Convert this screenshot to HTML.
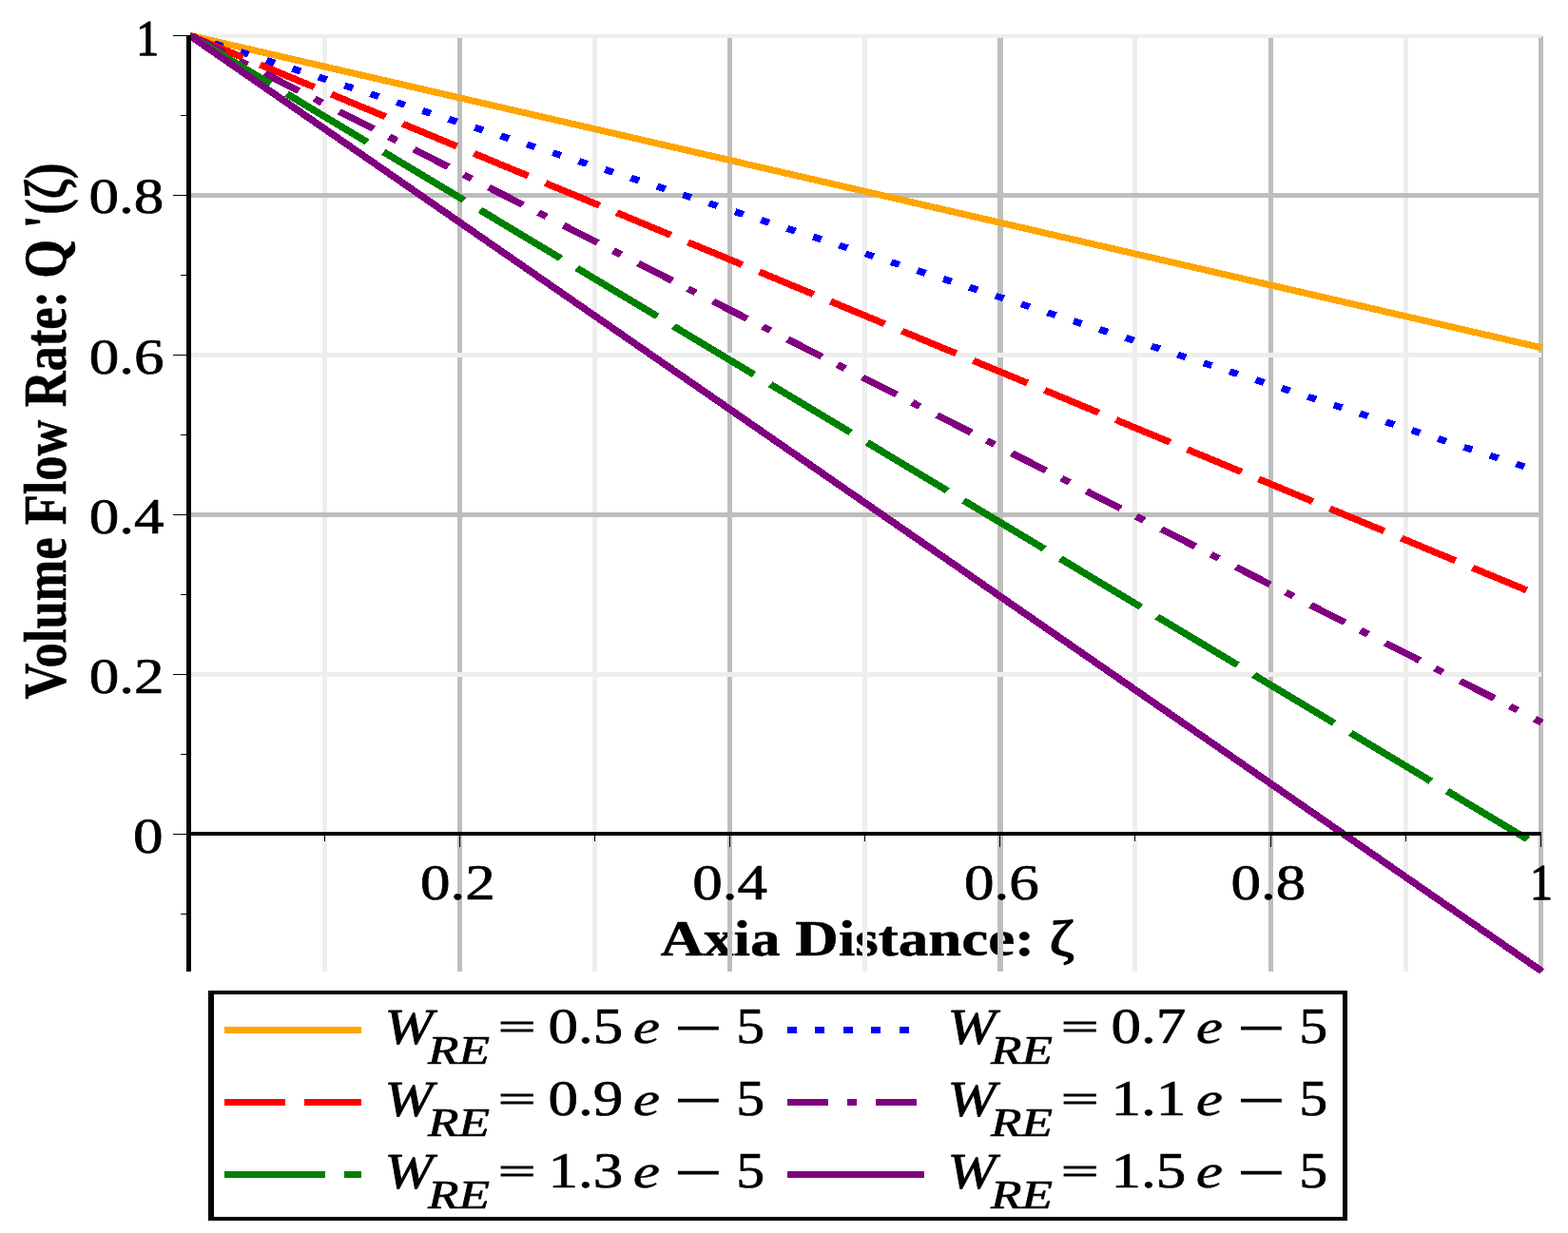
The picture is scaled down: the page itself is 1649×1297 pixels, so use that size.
<!DOCTYPE html>
<html lang="en">
<head>
<meta charset="utf-8">
<title>Volume Flow Rate vs Axia Distance</title>
<style>
html,body{margin:0;padding:0;background:#ffffff;}
body{width:1649px;height:1297px;overflow:hidden;}
svg{display:block;}
text{white-space:pre;}
</style>
</head>
<body>
<svg width="1649" height="1297" viewBox="0 0 1649 1297">
<rect x="0" y="0" width="1649" height="1297" fill="#ffffff"/>
<text transform="translate(694.5,1004.8) scale(1.2,1)" font-family="'Liberation Serif',serif" font-size="52.5" font-weight="bold" font-style="normal" text-anchor="start" fill="#000" stroke="#000" stroke-width="0.5" stroke-linejoin="round">Axia Distance: <tspan font-weight="normal" stroke-width="1.5">ζ</tspan></text>
<text transform="translate(69,735.5) scale(1.2,1) rotate(-90)" font-family="'Liberation Serif',serif" font-size="52.5" font-weight="bold" font-style="normal" text-anchor="start" fill="#000" stroke="#000" stroke-width="0.5" stroke-linejoin="round">Volume Flow Rate: Q <tspan dx="-1.5">'</tspan><tspan font-size="50.3">(<tspan font-weight="normal" stroke-width="1.5">ζ</tspan>)</tspan></text>
<g shape-rendering="crispEdges">
<rect x="339" y="38" width="5" height="984" fill="#eeeeee"/>
<rect x="481" y="38" width="5" height="984" fill="#bebebe"/>
<rect x="623" y="38" width="5" height="984" fill="#eeeeee"/>
<rect x="765" y="38" width="5" height="984" fill="#bebebe"/>
<rect x="907" y="38" width="5" height="984" fill="#eeeeee"/>
<rect x="1049" y="38" width="6" height="984" fill="#bebebe"/>
<rect x="1191" y="38" width="5" height="984" fill="#eeeeee"/>
<rect x="1334" y="38" width="5" height="984" fill="#bebebe"/>
<rect x="1476" y="38" width="5" height="984" fill="#eeeeee"/>
<rect x="1618" y="38" width="5" height="984" fill="#bebebe"/>
<rect x="201" y="36" width="1420" height="4" fill="#eeeeee"/>
<rect x="201" y="203" width="1420" height="5" fill="#bebebe"/>
<rect x="201" y="371" width="1420" height="5" fill="#eeeeee"/>
<rect x="201" y="539" width="1420" height="5" fill="#bebebe"/>
<rect x="201" y="707" width="1420" height="5" fill="#eeeeee"/>
</g>
<g transform="scale(1.2,1)" fill="none" stroke-width="7" shape-rendering="crispEdges">
<line x1="166.25" y1="37.3" x2="1351.25" y2="365.8" stroke="#ffa500"/>
<line x1="166.25" y1="37.3" x2="1351.25" y2="496.8" stroke="#0000ff" stroke-dasharray="7.69 16.78" stroke-dashoffset="1.25"/>
<line x1="166.25" y1="37.3" x2="1351.25" y2="627.5" stroke="#ff0000" stroke-dasharray="53.07 16.76" stroke-dashoffset="0.93"/>
<line x1="166.25" y1="37.3" x2="1351.25" y2="760" stroke="#800080" stroke-dasharray="35.14 15.91 8 17.65" stroke-dashoffset="-0.2"/>
<line x1="166.25" y1="37.3" x2="1351.25" y2="891.9" stroke="#008000" stroke-dasharray="86.92 17.57" stroke-dashoffset="-0.41"/>
<line x1="166.25" y1="37.3" x2="1351.25" y2="1021.7" stroke="#800080"/>
</g>
<g fill="#000000" shape-rendering="crispEdges">
<rect x="196" y="875" width="1425" height="4"/>
<rect x="196" y="37" width="5" height="985"/>
<rect x="182" y="877" width="14" height="1"/>
<rect x="182" y="709" width="14" height="1"/>
<rect x="182" y="541" width="14" height="1"/>
<rect x="182" y="373" width="14" height="1"/>
<rect x="182" y="205" width="14" height="1"/>
<rect x="182" y="37" width="14" height="1"/>
<rect x="190" y="121" width="6" height="1"/>
<rect x="190" y="289" width="6" height="1"/>
<rect x="190" y="457" width="6" height="1"/>
<rect x="190" y="625" width="6" height="1"/>
<rect x="190" y="793" width="6" height="1"/>
<rect x="190" y="961" width="6" height="1"/>
<rect x="341" y="879" width="1" height="6"/>
<rect x="483" y="879" width="1" height="12"/>
<rect x="625" y="879" width="1" height="6"/>
<rect x="767" y="879" width="1" height="12"/>
<rect x="909" y="879" width="1" height="6"/>
<rect x="1051" y="879" width="1" height="12"/>
<rect x="1193" y="879" width="1" height="6"/>
<rect x="1336" y="879" width="1" height="12"/>
<rect x="1478" y="879" width="1" height="6"/>
<rect x="1620" y="879" width="1" height="12"/>
</g>
<text transform="translate(172.3,224.1) scale(1.2,1)" font-family="'Liberation Serif',serif" font-size="52.5" font-weight="normal" font-style="normal" text-anchor="end" fill="#000" stroke="#000" stroke-width="0.7" stroke-linejoin="round">0.8</text>
<text transform="translate(172.5,393.1) scale(1.2,1)" font-family="'Liberation Serif',serif" font-size="52.5" font-weight="normal" font-style="normal" text-anchor="end" fill="#000" stroke="#000" stroke-width="0.7" stroke-linejoin="round">0.6</text>
<text transform="translate(172.5,561.1) scale(1.2,1)" font-family="'Liberation Serif',serif" font-size="52.5" font-weight="normal" font-style="normal" text-anchor="end" fill="#000" stroke="#000" stroke-width="0.7" stroke-linejoin="round">0.4</text>
<text transform="translate(172.5,729.1) scale(1.2,1)" font-family="'Liberation Serif',serif" font-size="52.5" font-weight="normal" font-style="normal" text-anchor="end" fill="#000" stroke="#000" stroke-width="0.7" stroke-linejoin="round">0.2</text>
<text transform="translate(171.6,897.1) scale(1.2,1)" font-family="'Liberation Serif',serif" font-size="52.5" font-weight="normal" font-style="normal" text-anchor="end" fill="#000" stroke="#000" stroke-width="0.7" stroke-linejoin="round">0</text>
<text transform="translate(143.2,58.4) scale(0.91,1)" font-family="'Liberation Serif',serif" font-size="52.5" font-weight="normal" font-style="normal" text-anchor="start" fill="#000" stroke="#000" stroke-width="1.3" stroke-linejoin="round">1</text>
<text transform="translate(481.45,946) scale(1.2,1)" font-family="'Liberation Serif',serif" font-size="52.5" font-weight="normal" font-style="normal" text-anchor="middle" fill="#000" stroke="#000" stroke-width="0.7" stroke-linejoin="round">0.2</text>
<text transform="translate(767.55,946) scale(1.2,1)" font-family="'Liberation Serif',serif" font-size="52.5" font-weight="normal" font-style="normal" text-anchor="middle" fill="#000" stroke="#000" stroke-width="0.7" stroke-linejoin="round">0.4</text>
<text transform="translate(1053.45,946) scale(1.2,1)" font-family="'Liberation Serif',serif" font-size="52.5" font-weight="normal" font-style="normal" text-anchor="middle" fill="#000" stroke="#000" stroke-width="0.7" stroke-linejoin="round">0.6</text>
<text transform="translate(1333.9,946) scale(1.2,1)" font-family="'Liberation Serif',serif" font-size="52.5" font-weight="normal" font-style="normal" text-anchor="middle" fill="#000" stroke="#000" stroke-width="0.7" stroke-linejoin="round">0.8</text>
<text transform="translate(1609,946.2) scale(0.91,1)" font-family="'Liberation Serif',serif" font-size="52.5" font-weight="normal" font-style="normal" text-anchor="start" fill="#000" stroke="#000" stroke-width="1.3" stroke-linejoin="round">1</text>
<g shape-rendering="crispEdges" fill="#000">
<rect x="219" y="1042" width="1198" height="4"/>
<rect x="219" y="1280" width="1198" height="4"/>
<rect x="219" y="1042" width="6" height="242"/>
<rect x="1412" y="1042" width="5" height="242"/>
</g>
<g shape-rendering="crispEdges" fill="none" stroke-width="7">
<line x1="236" y1="1083.5" x2="380" y2="1083.5" stroke="#ffa500"/>
<line x1="828" y1="1083.5" x2="972" y2="1083.5" stroke="#0000ff" stroke-dasharray="9.8 19.65"/>
<line x1="236" y1="1159.5" x2="380" y2="1159.5" stroke="#ff0000" stroke-dasharray="64 20"/>
<line x1="828" y1="1159.5" x2="972" y2="1159.5" stroke="#800080" stroke-dasharray="43 20 10 20"/>
<line x1="236" y1="1235.5" x2="380" y2="1235.5" stroke="#008000" stroke-dasharray="106 20"/>
<line x1="828" y1="1235.5" x2="972" y2="1235.5" stroke="#800080"/>
</g>
<text transform="translate(404.5,1097.8) scale(1.1640,1)" font-family="'Liberation Serif',serif" font-size="52.5" font-weight="normal" font-style="italic" text-anchor="start" fill="#000" stroke="#000" stroke-width="0.8" stroke-linejoin="round">W</text>
<text transform="translate(450,1119) scale(1.2480,1)" font-family="'Liberation Serif',serif" font-size="42.6" font-weight="normal" font-style="italic" text-anchor="start" fill="#000" stroke="#000" stroke-width="0.7" stroke-linejoin="round">RE</text>
<text transform="translate(524.1,1094.3) scale(1.3272,0.76)" font-family="'Liberation Serif',serif" font-size="52.5" font-weight="normal" font-style="normal" text-anchor="start" fill="#000" stroke="#000" stroke-width="1.35" stroke-linejoin="miter">=</text>
<text transform="translate(576.5,1096.9) scale(1.2000,1)" font-family="'Liberation Serif',serif" font-size="52.5" font-weight="normal" font-style="normal" text-anchor="start" fill="#000" stroke="#000" stroke-width="0.7" stroke-linejoin="round">0.5</text>
<text transform="translate(665.8,1097.1) scale(1.2600,1)" font-family="'Liberation Serif',serif" font-size="50.6" font-weight="normal" font-style="italic" text-anchor="start" fill="#000" stroke="#000" stroke-width="0.5" stroke-linejoin="round">e</text>
<text transform="translate(709.5,1099.4) scale(1.6800,1)" font-family="'Liberation Serif',serif" font-size="52.5" font-weight="normal" font-style="normal" text-anchor="start" fill="#000" stroke="#000" stroke-width="1.1" stroke-linejoin="miter">−</text>
<text transform="translate(774.3,1097) scale(1.1400,1)" font-family="'Liberation Serif',serif" font-size="52.5" font-weight="normal" font-style="normal" text-anchor="start" fill="#000" stroke="#000" stroke-width="0.7" stroke-linejoin="round">5</text>
<text transform="translate(996.5,1097.8) scale(1.1640,1)" font-family="'Liberation Serif',serif" font-size="52.5" font-weight="normal" font-style="italic" text-anchor="start" fill="#000" stroke="#000" stroke-width="0.8" stroke-linejoin="round">W</text>
<text transform="translate(1042,1119) scale(1.2480,1)" font-family="'Liberation Serif',serif" font-size="42.6" font-weight="normal" font-style="italic" text-anchor="start" fill="#000" stroke="#000" stroke-width="0.7" stroke-linejoin="round">RE</text>
<text transform="translate(1116.1,1094.3) scale(1.3272,0.76)" font-family="'Liberation Serif',serif" font-size="52.5" font-weight="normal" font-style="normal" text-anchor="start" fill="#000" stroke="#000" stroke-width="1.35" stroke-linejoin="miter">=</text>
<text transform="translate(1168.5,1096.9) scale(1.2000,1)" font-family="'Liberation Serif',serif" font-size="52.5" font-weight="normal" font-style="normal" text-anchor="start" fill="#000" stroke="#000" stroke-width="0.7" stroke-linejoin="round">0.7</text>
<text transform="translate(1257.8,1097.1) scale(1.2600,1)" font-family="'Liberation Serif',serif" font-size="50.6" font-weight="normal" font-style="italic" text-anchor="start" fill="#000" stroke="#000" stroke-width="0.5" stroke-linejoin="round">e</text>
<text transform="translate(1301.5,1099.4) scale(1.6800,1)" font-family="'Liberation Serif',serif" font-size="52.5" font-weight="normal" font-style="normal" text-anchor="start" fill="#000" stroke="#000" stroke-width="1.1" stroke-linejoin="miter">−</text>
<text transform="translate(1366.3,1097) scale(1.1400,1)" font-family="'Liberation Serif',serif" font-size="52.5" font-weight="normal" font-style="normal" text-anchor="start" fill="#000" stroke="#000" stroke-width="0.7" stroke-linejoin="round">5</text>
<text transform="translate(404.5,1173.8) scale(1.1640,1)" font-family="'Liberation Serif',serif" font-size="52.5" font-weight="normal" font-style="italic" text-anchor="start" fill="#000" stroke="#000" stroke-width="0.8" stroke-linejoin="round">W</text>
<text transform="translate(450,1195) scale(1.2480,1)" font-family="'Liberation Serif',serif" font-size="42.6" font-weight="normal" font-style="italic" text-anchor="start" fill="#000" stroke="#000" stroke-width="0.7" stroke-linejoin="round">RE</text>
<text transform="translate(524.1,1170.3) scale(1.3272,0.76)" font-family="'Liberation Serif',serif" font-size="52.5" font-weight="normal" font-style="normal" text-anchor="start" fill="#000" stroke="#000" stroke-width="1.35" stroke-linejoin="miter">=</text>
<text transform="translate(576.5,1172.9) scale(1.2000,1)" font-family="'Liberation Serif',serif" font-size="52.5" font-weight="normal" font-style="normal" text-anchor="start" fill="#000" stroke="#000" stroke-width="0.7" stroke-linejoin="round">0.9</text>
<text transform="translate(665.8,1173.1) scale(1.2600,1)" font-family="'Liberation Serif',serif" font-size="50.6" font-weight="normal" font-style="italic" text-anchor="start" fill="#000" stroke="#000" stroke-width="0.5" stroke-linejoin="round">e</text>
<text transform="translate(709.5,1175.4) scale(1.6800,1)" font-family="'Liberation Serif',serif" font-size="52.5" font-weight="normal" font-style="normal" text-anchor="start" fill="#000" stroke="#000" stroke-width="1.1" stroke-linejoin="miter">−</text>
<text transform="translate(774.3,1173) scale(1.1400,1)" font-family="'Liberation Serif',serif" font-size="52.5" font-weight="normal" font-style="normal" text-anchor="start" fill="#000" stroke="#000" stroke-width="0.7" stroke-linejoin="round">5</text>
<text transform="translate(996.5,1173.8) scale(1.1640,1)" font-family="'Liberation Serif',serif" font-size="52.5" font-weight="normal" font-style="italic" text-anchor="start" fill="#000" stroke="#000" stroke-width="0.8" stroke-linejoin="round">W</text>
<text transform="translate(1042,1195) scale(1.2480,1)" font-family="'Liberation Serif',serif" font-size="42.6" font-weight="normal" font-style="italic" text-anchor="start" fill="#000" stroke="#000" stroke-width="0.7" stroke-linejoin="round">RE</text>
<text transform="translate(1116.1,1170.3) scale(1.3272,0.76)" font-family="'Liberation Serif',serif" font-size="52.5" font-weight="normal" font-style="normal" text-anchor="start" fill="#000" stroke="#000" stroke-width="1.35" stroke-linejoin="miter">=</text>
<text transform="translate(1168.5,1172.9) scale(1.2000,1)" font-family="'Liberation Serif',serif" font-size="52.5" font-weight="normal" font-style="normal" text-anchor="start" fill="#000" stroke="#000" stroke-width="0.7" stroke-linejoin="round">1.1</text>
<text transform="translate(1257.8,1173.1) scale(1.2600,1)" font-family="'Liberation Serif',serif" font-size="50.6" font-weight="normal" font-style="italic" text-anchor="start" fill="#000" stroke="#000" stroke-width="0.5" stroke-linejoin="round">e</text>
<text transform="translate(1301.5,1175.4) scale(1.6800,1)" font-family="'Liberation Serif',serif" font-size="52.5" font-weight="normal" font-style="normal" text-anchor="start" fill="#000" stroke="#000" stroke-width="1.1" stroke-linejoin="miter">−</text>
<text transform="translate(1366.3,1173) scale(1.1400,1)" font-family="'Liberation Serif',serif" font-size="52.5" font-weight="normal" font-style="normal" text-anchor="start" fill="#000" stroke="#000" stroke-width="0.7" stroke-linejoin="round">5</text>
<text transform="translate(404.5,1249.8) scale(1.1640,1)" font-family="'Liberation Serif',serif" font-size="52.5" font-weight="normal" font-style="italic" text-anchor="start" fill="#000" stroke="#000" stroke-width="0.8" stroke-linejoin="round">W</text>
<text transform="translate(450,1271) scale(1.2480,1)" font-family="'Liberation Serif',serif" font-size="42.6" font-weight="normal" font-style="italic" text-anchor="start" fill="#000" stroke="#000" stroke-width="0.7" stroke-linejoin="round">RE</text>
<text transform="translate(524.1,1246.3) scale(1.3272,0.76)" font-family="'Liberation Serif',serif" font-size="52.5" font-weight="normal" font-style="normal" text-anchor="start" fill="#000" stroke="#000" stroke-width="1.35" stroke-linejoin="miter">=</text>
<text transform="translate(576.5,1248.9) scale(1.2000,1)" font-family="'Liberation Serif',serif" font-size="52.5" font-weight="normal" font-style="normal" text-anchor="start" fill="#000" stroke="#000" stroke-width="0.7" stroke-linejoin="round">1.3</text>
<text transform="translate(665.8,1249.1) scale(1.2600,1)" font-family="'Liberation Serif',serif" font-size="50.6" font-weight="normal" font-style="italic" text-anchor="start" fill="#000" stroke="#000" stroke-width="0.5" stroke-linejoin="round">e</text>
<text transform="translate(709.5,1251.4) scale(1.6800,1)" font-family="'Liberation Serif',serif" font-size="52.5" font-weight="normal" font-style="normal" text-anchor="start" fill="#000" stroke="#000" stroke-width="1.1" stroke-linejoin="miter">−</text>
<text transform="translate(774.3,1249) scale(1.1400,1)" font-family="'Liberation Serif',serif" font-size="52.5" font-weight="normal" font-style="normal" text-anchor="start" fill="#000" stroke="#000" stroke-width="0.7" stroke-linejoin="round">5</text>
<text transform="translate(996.5,1249.8) scale(1.1640,1)" font-family="'Liberation Serif',serif" font-size="52.5" font-weight="normal" font-style="italic" text-anchor="start" fill="#000" stroke="#000" stroke-width="0.8" stroke-linejoin="round">W</text>
<text transform="translate(1042,1271) scale(1.2480,1)" font-family="'Liberation Serif',serif" font-size="42.6" font-weight="normal" font-style="italic" text-anchor="start" fill="#000" stroke="#000" stroke-width="0.7" stroke-linejoin="round">RE</text>
<text transform="translate(1116.1,1246.3) scale(1.3272,0.76)" font-family="'Liberation Serif',serif" font-size="52.5" font-weight="normal" font-style="normal" text-anchor="start" fill="#000" stroke="#000" stroke-width="1.35" stroke-linejoin="miter">=</text>
<text transform="translate(1168.5,1248.9) scale(1.2000,1)" font-family="'Liberation Serif',serif" font-size="52.5" font-weight="normal" font-style="normal" text-anchor="start" fill="#000" stroke="#000" stroke-width="0.7" stroke-linejoin="round">1.5</text>
<text transform="translate(1257.8,1249.1) scale(1.2600,1)" font-family="'Liberation Serif',serif" font-size="50.6" font-weight="normal" font-style="italic" text-anchor="start" fill="#000" stroke="#000" stroke-width="0.5" stroke-linejoin="round">e</text>
<text transform="translate(1301.5,1251.4) scale(1.6800,1)" font-family="'Liberation Serif',serif" font-size="52.5" font-weight="normal" font-style="normal" text-anchor="start" fill="#000" stroke="#000" stroke-width="1.1" stroke-linejoin="miter">−</text>
<text transform="translate(1366.3,1249) scale(1.1400,1)" font-family="'Liberation Serif',serif" font-size="52.5" font-weight="normal" font-style="normal" text-anchor="start" fill="#000" stroke="#000" stroke-width="0.7" stroke-linejoin="round">5</text>
</svg>
</body>
</html>
